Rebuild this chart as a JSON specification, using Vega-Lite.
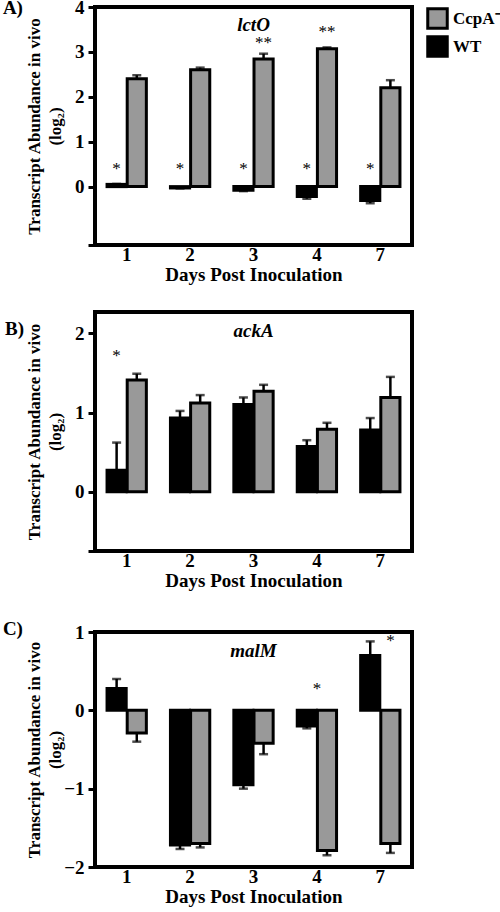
{
  "$schema": "https://vega.github.io/schema/vega-lite/v6.json",
  "padding": {"top": -4, "left": 0, "right": 0, "bottom": 0},
  "background": "white",
  "config": {
    "view": {"stroke": "black", "strokeWidth": 4},
    "font": "Liberation Serif",
    "axis": {
      "labelFont": "Liberation Serif", "labelFontWeight": "bold", "labelFontSize": 19, "labelColor": "black",
      "titleFont": "Liberation Serif", "titleFontWeight": "bold", "titleColor": "black",
      "domain": false, "grid": false, "tickColor": "black", "tickWidth": 3, "tickSize": 7
    },
    "axisX": {"ticks": false, "tickSize": 0, "labelPadding": 0, "labelAngle": 0, "titleFontSize": 19, "titlePadding": 1},
    "axisY": {"titleFontSize": 17, "titleFontWeight": "bold", "titleLineHeight": 21, "titleX": -69, "titleBaseline": "top", "labelPadding": 4},
    "title": {"font": "Liberation Serif", "fontWeight": "bold", "fontSize": 19, "color": "black", "orient": "left", "anchor": "end", "angle": 0, "baseline": "middle", "offset": -18}
  },
  "datasets": {
    "bars": [
      {"gene": "lctO", "day": "1", "series": "WT", "value": 0.05, "err": 0.06},
      {"gene": "lctO", "day": "2", "series": "WT", "value": -0.03, "err": -0.04},
      {"gene": "lctO", "day": "3", "series": "WT", "value": -0.08, "err": -0.1},
      {"gene": "lctO", "day": "4", "series": "WT", "value": -0.22, "err": -0.27},
      {"gene": "lctO", "day": "7", "series": "WT", "value": -0.31, "err": -0.37},
      {"gene": "lctO", "day": "1", "series": "CcpA⁻", "value": 2.4, "err": 2.48},
      {"gene": "lctO", "day": "2", "series": "CcpA⁻", "value": 2.6, "err": 2.65},
      {"gene": "lctO", "day": "3", "series": "CcpA⁻", "value": 2.84, "err": 2.96},
      {"gene": "lctO", "day": "4", "series": "CcpA⁻", "value": 3.07, "err": 3.1},
      {"gene": "lctO", "day": "7", "series": "CcpA⁻", "value": 2.2, "err": 2.37},
      {"gene": "ackA", "day": "1", "series": "WT", "value": 0.27, "err": 0.62},
      {"gene": "ackA", "day": "2", "series": "WT", "value": 0.93, "err": 1.02},
      {"gene": "ackA", "day": "3", "series": "WT", "value": 1.1, "err": 1.19},
      {"gene": "ackA", "day": "4", "series": "WT", "value": 0.57, "err": 0.65},
      {"gene": "ackA", "day": "7", "series": "WT", "value": 0.78, "err": 0.93},
      {"gene": "ackA", "day": "1", "series": "CcpA⁻", "value": 1.41, "err": 1.49},
      {"gene": "ackA", "day": "2", "series": "CcpA⁻", "value": 1.12, "err": 1.22},
      {"gene": "ackA", "day": "3", "series": "CcpA⁻", "value": 1.27, "err": 1.35},
      {"gene": "ackA", "day": "4", "series": "CcpA⁻", "value": 0.79, "err": 0.87},
      {"gene": "ackA", "day": "7", "series": "CcpA⁻", "value": 1.19, "err": 1.45},
      {"gene": "malM", "day": "1", "series": "WT", "value": 0.28, "err": 0.4},
      {"gene": "malM", "day": "2", "series": "WT", "value": -1.72, "err": -1.77},
      {"gene": "malM", "day": "3", "series": "WT", "value": -0.95, "err": -1.0},
      {"gene": "malM", "day": "4", "series": "WT", "value": -0.2, "err": -0.23},
      {"gene": "malM", "day": "7", "series": "WT", "value": 0.7, "err": 0.88},
      {"gene": "malM", "day": "1", "series": "CcpA⁻", "value": -0.29, "err": -0.4},
      {"gene": "malM", "day": "2", "series": "CcpA⁻", "value": -1.7, "err": -1.75},
      {"gene": "malM", "day": "3", "series": "CcpA⁻", "value": -0.42, "err": -0.56},
      {"gene": "malM", "day": "4", "series": "CcpA⁻", "value": -1.79, "err": -1.85},
      {"gene": "malM", "day": "7", "series": "CcpA⁻", "value": -1.7, "err": -1.82}
    ],
    "stars": [
      {"gene": "lctO", "day": "1", "series": "WT", "y": 0.4, "label": "*"},
      {"gene": "lctO", "day": "2", "series": "WT", "y": 0.4, "label": "*"},
      {"gene": "lctO", "day": "3", "series": "WT", "y": 0.4, "label": "*"},
      {"gene": "lctO", "day": "4", "series": "WT", "y": 0.4, "label": "*"},
      {"gene": "lctO", "day": "7", "series": "WT", "y": 0.4, "label": "*"},
      {"gene": "lctO", "day": "3", "series": "CcpA⁻", "y": 3.2, "label": "**"},
      {"gene": "lctO", "day": "4", "series": "CcpA⁻", "y": 3.44, "label": "**"},
      {"gene": "ackA", "day": "1", "series": "WT", "y": 1.71, "label": "*"},
      {"gene": "malM", "day": "7", "series": "CcpA⁻", "y": 0.89, "label": "*"}
    ],
    "groupstars": [
      {"gene": "malM", "day": "4", "y": 0.27, "label": "*"}
    ],
    "genes": [
      {"gene": "lctO", "day": "3", "y": 3.6},
      {"gene": "ackA", "day": "3", "y": 2.03},
      {"gene": "malM", "day": "3", "y": 0.76}
    ]
  },
  "resolve": {"scale": {"y": "independent", "color": "shared"}, "legend": {"color": "shared"}},
  "spacing": 24,
  "vconcat": [
    {
      "width": 317, "height": 238,
      "title": {"text": "A)", "dy": 1},
      "resolve": {"axis": {"y": "independent"}},
      "layer": [
        {
          "data": {"name": "bars"},
          "transform": [{"filter": "datum.gene === 'lctO'"}],
          "mark": {"type": "bar", "stroke": "black", "strokeWidth": 3},
          "encoding": {
            "x": {"field": "day", "type": "nominal", "sort": ["1","2","3","4","7"], "scale": {"paddingInner": 0.38, "paddingOuter": 0.19},
                  "axis": {"title": "Days Post Inoculation"}},
            "xOffset": {"field": "series", "sort": ["WT", "CcpA⁻"], "scale": {"paddingInner": 0.05}},
            "y": {"field": "value", "type": "quantitative", "scale": {"domain": [-1.3, 4], "nice": false, "zero": false},
                  "axis": {"values": [-1.3, 0, 1, 2, 3, 4], "labelExpr": "datum.value < -1 ? '' : datum.label", "title": ["Transcript Abundance in vivo", "(log₂)"]}},
            "color": {"field": "series", "type": "nominal", "scale": {"domain": ["CcpA⁻", "WT"], "range": ["#999999", "#000000"]},
                      "legend": {"orient": "none", "legendX": 331, "legendY": 0, "title": null, "symbolType": "square", "symbolSize": 380, "symbolStrokeColor": "black", "symbolStrokeWidth": 3, "symbolOpacity": 1, "labelFont": "Liberation Serif", "labelFontWeight": "bold", "labelFontSize": 17, "labelColor": "black", "rowPadding": -17, "labelOffset": 4, "padding": 0}}
          }
        },
        {
          "data": {"name": "bars"},
          "transform": [{"filter": "datum.gene === 'lctO'"}],
          "mark": {"type": "rule", "color": "black", "strokeWidth": 2.5},
          "encoding": {
            "x": {"field": "day", "type": "nominal", "sort": ["1","2","3","4","7"]},
            "xOffset": {"field": "series", "sort": ["WT", "CcpA⁻"]},
            "y": {"field": "value", "type": "quantitative", "axis": null},
            "y2": {"field": "err"}
          }
        },
        {
          "data": {"name": "bars"},
          "transform": [{"filter": "datum.gene === 'lctO'"}],
          "mark": {"type": "tick", "color": "black", "size": 9, "thickness": 2.5, "orient": "horizontal"},
          "encoding": {
            "x": {"field": "day", "type": "nominal", "sort": ["1","2","3","4","7"]},
            "xOffset": {"field": "series", "sort": ["WT", "CcpA⁻"]},
            "y": {"field": "err", "type": "quantitative", "axis": null}
          }
        },
        {
          "mark": {"type": "rule", "color": "black", "strokeWidth": 4},
          "encoding": {"y": {"datum": 0, "type": "quantitative", "axis": null}}
        },
        {
          "data": {"name": "stars"},
          "transform": [{"filter": "datum.gene === 'lctO'"}],
          "mark": {"type": "text", "fontSize": 17, "font": "Liberation Serif", "baseline": "middle", "fill": "black"},
          "encoding": {
            "x": {"field": "day", "type": "nominal", "sort": ["1","2","3","4","7"]},
            "xOffset": {"field": "series", "sort": ["WT", "CcpA⁻"]},
            "y": {"field": "y", "type": "quantitative", "axis": null},
            "text": {"field": "label"}
          }
        },
        {
          "data": {"name": "genes"},
          "transform": [{"filter": "datum.gene === 'lctO'"}],
          "mark": {"type": "text", "fontSize": 19, "font": "Liberation Serif", "fontStyle": "italic", "fontWeight": "bold", "baseline": "middle", "fill": "black"},
          "encoding": {
            "x": {"field": "day", "type": "nominal", "sort": ["1","2","3","4","7"]},
            "y": {"field": "y", "type": "quantitative", "axis": null},
            "text": {"field": "gene"}
          }
        }
      ]
    },
    {
      "resolve": {"scale": {"y": "independent", "color": "shared"}, "legend": {"color": "shared"}},
      "spacing": 26,
      "vconcat": [
        {
          "width": 317, "height": 239,
          "title": {"text": "B)", "dy": 8},
          "resolve": {"axis": {"y": "independent"}},
          "layer": [
            {
              "data": {"name": "bars"},
              "transform": [{"filter": "datum.gene === 'ackA'"}],
              "mark": {"type": "bar", "stroke": "black", "strokeWidth": 3},
              "encoding": {
                "x": {"field": "day", "type": "nominal", "sort": ["1","2","3","4","7"], "scale": {"paddingInner": 0.38, "paddingOuter": 0.19},
                      "axis": {"title": "Days Post Inoculation"}},
                "xOffset": {"field": "series", "sort": ["WT", "CcpA⁻"], "scale": {"paddingInner": 0.05}},
                "y": {"field": "value", "type": "quantitative", "scale": {"domain": [-0.75, 2.27], "nice": false, "zero": false},
                      "axis": {"values": [-0.75, 0, 1, 2], "labelExpr": "datum.value < -0.5 ? '' : datum.label", "title": ["Transcript Abundance in vivo", "(log₂)"]}},
                "color": {"field": "series", "type": "nominal", "scale": {"domain": ["CcpA⁻", "WT"], "range": ["#999999", "#000000"]}}
              }
            },
            {
              "data": {"name": "bars"},
              "transform": [{"filter": "datum.gene === 'ackA'"}],
              "mark": {"type": "rule", "color": "black", "strokeWidth": 2.5},
              "encoding": {
                "x": {"field": "day", "type": "nominal", "sort": ["1","2","3","4","7"]},
                "xOffset": {"field": "series", "sort": ["WT", "CcpA⁻"]},
                "y": {"field": "value", "type": "quantitative", "axis": null},
                "y2": {"field": "err"}
              }
            },
            {
              "data": {"name": "bars"},
              "transform": [{"filter": "datum.gene === 'ackA'"}],
              "mark": {"type": "tick", "color": "black", "size": 9, "thickness": 2.5, "orient": "horizontal"},
              "encoding": {
                "x": {"field": "day", "type": "nominal", "sort": ["1","2","3","4","7"]},
                "xOffset": {"field": "series", "sort": ["WT", "CcpA⁻"]},
                "y": {"field": "err", "type": "quantitative", "axis": null}
              }
            },
            {
              "mark": {"type": "rule", "color": "black", "strokeWidth": 4},
              "encoding": {"y": {"datum": 0, "type": "quantitative", "axis": null}}
            },
            {
              "data": {"name": "stars"},
              "transform": [{"filter": "datum.gene === 'ackA'"}],
              "mark": {"type": "text", "fontSize": 17, "font": "Liberation Serif", "baseline": "middle", "fill": "black"},
              "encoding": {
                "x": {"field": "day", "type": "nominal", "sort": ["1","2","3","4","7"]},
                "xOffset": {"field": "series", "sort": ["WT", "CcpA⁻"]},
                "y": {"field": "y", "type": "quantitative", "axis": null},
                "text": {"field": "label"}
              }
            },
            {
              "data": {"name": "genes"},
              "transform": [{"filter": "datum.gene === 'ackA'"}],
              "mark": {"type": "text", "fontSize": 19, "font": "Liberation Serif", "fontStyle": "italic", "fontWeight": "bold", "baseline": "middle", "fill": "black"},
              "encoding": {
                "x": {"field": "day", "type": "nominal", "sort": ["1","2","3","4","7"]},
                "y": {"field": "y", "type": "quantitative", "axis": null},
                "text": {"field": "gene"}
              }
            }
          ]
        },
        {
          "width": 317, "height": 235,
          "title": {"text": "C)", "dy": -3},
          "resolve": {"axis": {"y": "independent"}},
          "layer": [
            {
              "data": {"name": "bars"},
              "transform": [{"filter": "datum.gene === 'malM'"}],
              "mark": {"type": "bar", "stroke": "black", "strokeWidth": 3},
              "encoding": {
                "x": {"field": "day", "type": "nominal", "sort": ["1","2","3","4","7"], "scale": {"paddingInner": 0.38, "paddingOuter": 0.19},
                      "axis": {"title": "Days Post Inoculation"}},
                "xOffset": {"field": "series", "sort": ["WT", "CcpA⁻"], "scale": {"paddingInner": 0.05}},
                "y": {"field": "value", "type": "quantitative", "scale": {"domain": [-2, 1], "nice": false, "zero": false},
                      "axis": {"values": [-2, -1, 0, 1], "title": ["Transcript Abundance in vivo", "(log₂)"]}},
                "color": {"field": "series", "type": "nominal", "scale": {"domain": ["CcpA⁻", "WT"], "range": ["#999999", "#000000"]}}
              }
            },
            {
              "data": {"name": "bars"},
              "transform": [{"filter": "datum.gene === 'malM'"}],
              "mark": {"type": "rule", "color": "black", "strokeWidth": 2.5},
              "encoding": {
                "x": {"field": "day", "type": "nominal", "sort": ["1","2","3","4","7"]},
                "xOffset": {"field": "series", "sort": ["WT", "CcpA⁻"]},
                "y": {"field": "value", "type": "quantitative", "axis": null},
                "y2": {"field": "err"}
              }
            },
            {
              "data": {"name": "bars"},
              "transform": [{"filter": "datum.gene === 'malM'"}],
              "mark": {"type": "tick", "color": "black", "size": 9, "thickness": 2.5, "orient": "horizontal"},
              "encoding": {
                "x": {"field": "day", "type": "nominal", "sort": ["1","2","3","4","7"]},
                "xOffset": {"field": "series", "sort": ["WT", "CcpA⁻"]},
                "y": {"field": "err", "type": "quantitative", "axis": null}
              }
            },
            {
              "mark": {"type": "rule", "color": "black", "strokeWidth": 4},
              "encoding": {"y": {"datum": 0, "type": "quantitative", "axis": null}}
            },
            {
              "data": {"name": "stars"},
              "transform": [{"filter": "datum.gene === 'malM'"}],
              "mark": {"type": "text", "fontSize": 17, "font": "Liberation Serif", "baseline": "middle", "fill": "black"},
              "encoding": {
                "x": {"field": "day", "type": "nominal", "sort": ["1","2","3","4","7"]},
                "xOffset": {"field": "series", "sort": ["WT", "CcpA⁻"]},
                "y": {"field": "y", "type": "quantitative", "axis": null},
                "text": {"field": "label"}
              }
            },
            {
              "data": {"name": "groupstars"},
              "mark": {"type": "text", "fontSize": 17, "font": "Liberation Serif", "baseline": "middle", "fill": "black"},
              "encoding": {
                "x": {"field": "day", "type": "nominal", "sort": ["1","2","3","4","7"]},
                "y": {"field": "y", "type": "quantitative", "axis": null},
                "text": {"field": "label"}
              }
            },
            {
              "data": {"name": "genes"},
              "transform": [{"filter": "datum.gene === 'malM'"}],
              "mark": {"type": "text", "fontSize": 19, "font": "Liberation Serif", "fontStyle": "italic", "fontWeight": "bold", "baseline": "middle", "fill": "black"},
              "encoding": {
                "x": {"field": "day", "type": "nominal", "sort": ["1","2","3","4","7"]},
                "y": {"field": "y", "type": "quantitative", "axis": null},
                "text": {"field": "gene"}
              }
            }
          ]
        }
      ]
    }
  ]
}
